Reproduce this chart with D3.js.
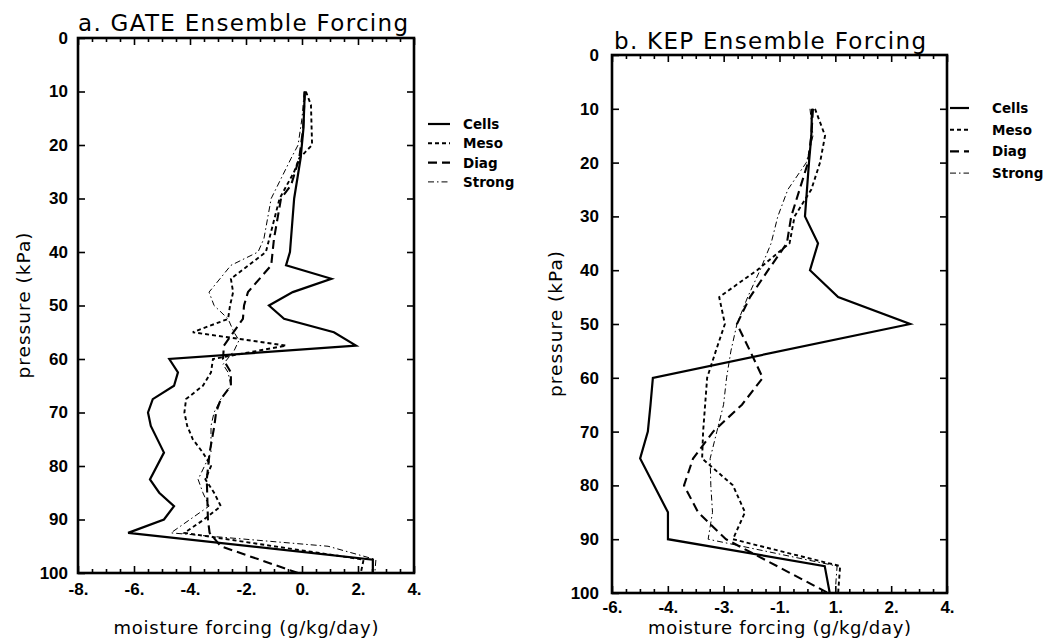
<!DOCTYPE html>
<html>
<head>
<meta charset="utf-8">
<script src="https://cdn.jsdelivr.net/npm/d3@7/dist/d3.min.js"></script>
<style>
  html, body { margin: 0; padding: 0; background: #fff; }
  svg { display: block; }
</style>
</head>
<body>
<svg id="chart" width="1048" height="638"></svg>
<script>
// Vertical profiles of moisture forcing, [pressure kPa, g/kg/day]
const gateCells = [[10,0.1],[17,0.05],[22.5,-0.05],[30,-0.28],[40,-0.43],[42.5,-0.57],[45,1.05],[47.5,-0.33],[50,-1.18],[52.5,-0.64],[55,1.14],[57.5,1.93],[60,-4.74],[62.5,-4.43],[65,-4.57],[67.5,-5.33],[70,-5.5],[72.5,-5.4],[77.5,-4.93],[82.5,-5.43],[85,-5.1],[87.5,-4.57],[90,-4.93],[92.5,-6.21],[97.5,2.53],[100,2.53]];
const gateMeso = [[10,0.14],[12.5,0.32],[20,0.36],[22.5,-0.1],[25,-0.28],[30,-0.8],[40,-1.29],[45,-2.54],[47.5,-2.46],[50,-2.57],[52.5,-2.64],[55,-3.9],[57.5,-0.57],[60,-3.18],[62.5,-3.25],[65,-3.54],[67.5,-4.14],[70,-4.2],[72.5,-4.1],[75,-3.9],[77.5,-3.54],[80,-3.25],[82.5,-3.45],[85,-3.14],[87.5,-2.9],[90,-3.5],[92.5,-4.2],[97.5,2.2],[100,2.1]];
const gateDiag = [[10,0.1],[17,0.04],[22.5,-0.1],[27.5,-0.39],[30,-0.75],[37.5,-1.0],[42.5,-1.1],[47.5,-1.93],[50,-2.07],[52.5,-2.11],[57.5,-2.79],[60,-2.82],[62.5,-2.54],[65,-2.54],[67.5,-2.9],[70,-3.07],[72.5,-3.13],[77.5,-3.3],[82.5,-3.4],[90,-3.36],[92.5,-3.3],[95,-2.9],[100,-0.14]];
const gateStrong = [[10,0.08],[15,0.0],[20,-0.14],[22.5,-0.39],[30,-1.1],[37.5,-1.36],[40,-1.57],[42.5,-2.54],[47.5,-3.32],[50,-3.14],[52.5,-2.64],[55,-2.43],[56.5,-2.25],[58.5,-2.43],[61,-2.82],[62.5,-2.64],[65,-2.54],[67.5,-2.9],[70,-3.14],[72.5,-3.25],[77.5,-3.25],[82.5,-3.71],[85,-3.54],[87.5,-3.32],[92.5,-4.68],[95,0.93],[97.5,2.64],[100,2.6]];

const kepCells = [[10,-0.03],[15,-0.05],[20,-0.12],[25,-0.18],[30,-0.24],[35,0.15],[40,-0.09],[45,0.75],[50,2.9],[60,-4.78],[65,-4.85],[70,-4.93],[75,-5.16],[85,-4.33],[90,-4.33],[95,0.35],[100,0.5]];
const kepMeso = [[10,0.06],[15,0.36],[20,0.21],[25,-0.05],[30,-0.55],[35,-0.7],[40,-1.67],[45,-2.8],[50,-2.63],[55,-2.9],[60,-3.16],[65,-3.22],[70,-3.28],[75,-3.31],[80,-2.39],[85,-2.03],[90,-2.39],[95,0.81],[100,0.75]];
const kepDiag = [[10,0.0],[15,-0.05],[20,-0.15],[25,-0.4],[30,-0.65],[35,-0.78],[40,-1.34],[45,-1.88],[50,-2.27],[55,-1.88],[60,-1.5],[65,-2.12],[70,-2.98],[75,-3.58],[80,-3.85],[85,-3.43],[90,-2.6],[100,0.45]];
const kepStrong = [[10,-0.09],[15,0.0],[20,-0.2],[25,-0.75],[30,-1.05],[35,-1.25],[40,-1.58],[45,-1.95],[50,-2.27],[55,-2.45],[60,-2.58],[65,-2.67],[70,-2.87],[75,-3.07],[80,-3.05],[85,-3.0],[90,-3.13],[95,0.72],[100,0.66]];

const seriesNames = ["Cells", "Meso", "Diag", "Strong"];
const pressureTicks = [0, 10, 20, 30, 40, 50, 60, 70, 80, 90, 100];
const gateXLabels = ["-8.", "-6.", "-4.", "-2.", "0.", "2.", "4."];
const kepXLabels = ["-6.", "-4.", "-3.", "-1.", "1.", "2.", "4."];
const gateXDomain = [-8, 4];
const kepXDomain = [-6, 4];

// Line styles for the four ensemble members
const styles = {
  Cells:  { width: 2.2, dash: null },
  Meso:   { width: 1.9, dash: "4,3" },
  Diag:   { width: 2.1, dash: "9,5" },
  Strong: { width: 1.0, dash: "6,3,1.5,3" }
};

const svg = d3.select("#chart");

function drawPanel(cfg) {
  const g = svg.append("g");
  const x = d3.scaleLinear().domain(cfg.xDomain).range([cfg.left, cfg.right]);
  const y = d3.scaleLinear().domain([0, 100]).range([cfg.top, cfg.bottom]);

  const nMajor = cfg.xLabels.length - 1;
  const step = (cfg.xDomain[1] - cfg.xDomain[0]) / nMajor;
  const majorX = d3.range(nMajor + 1).map(i => cfg.xDomain[0] + i * step);
  const minorX = d3.range(nMajor * 4 + 1).map(i => cfg.xDomain[0] + i * step / 4)
    .filter((v, i) => i % 4 !== 0);

  // bottom axis: labelled majors and minor ticks pointing inward
  g.append("g").attr("transform", `translate(0,${cfg.bottom})`)
    .call(d3.axisBottom(x).tickValues(majorX).tickSizeInner(-7).tickSizeOuter(0).tickPadding(cfg.xPad)
      .tickFormat((d, i) => cfg.xLabels[i]));
  g.append("g").attr("transform", `translate(0,${cfg.bottom})`)
    .call(d3.axisBottom(x).tickValues(minorX).tickSizeInner(-4).tickSizeOuter(0).tickFormat(""));
  // top axis
  g.append("g").attr("transform", `translate(0,${cfg.top})`)
    .call(d3.axisTop(x).tickValues(majorX).tickSizeInner(-7).tickSizeOuter(0).tickFormat(""));
  g.append("g").attr("transform", `translate(0,${cfg.top})`)
    .call(d3.axisTop(x).tickValues(minorX).tickSizeInner(-4).tickSizeOuter(0).tickFormat(""));
  // left and right pressure axes
  g.append("g").attr("transform", `translate(${cfg.left},0)`)
    .call(d3.axisLeft(y).tickValues(pressureTicks).tickSizeInner(-7).tickSizeOuter(0).tickPadding(cfg.yPad)
      .tickFormat(d3.format("d")));
  g.append("g").attr("transform", `translate(${cfg.right},0)`)
    .call(d3.axisRight(y).tickValues(pressureTicks.slice(1, -1)).tickSizeInner(-7).tickSizeOuter(0).tickFormat(""));

  g.selectAll(".domain").remove();
  g.selectAll(".tick line").attr("stroke", "#000").attr("stroke-width", 1.6);
  g.selectAll(".tick text")
    .style("font-family", "'Liberation Sans', Arial, sans-serif")
    .style("font-weight", "bold")
    .style("font-size", "17px")
    .attr("fill", "#000");

  // frame
  g.append("rect")
    .attr("x", cfg.left).attr("y", cfg.top)
    .attr("width", cfg.right - cfg.left).attr("height", cfg.bottom - cfg.top)
    .attr("fill", "none").attr("stroke", "#000").attr("stroke-width", 2.6);

  const line = d3.line().x(d => x(d[1])).y(d => y(d[0]));
  cfg.series.forEach((s, i) => {
    const st = styles[seriesNames[i]];
    g.append("path").datum(s)
      .attr("d", line)
      .attr("fill", "none").attr("stroke", "#000")
      .attr("stroke-width", st.width)
      .attr("stroke-linejoin", "miter")
      .attr("stroke-dasharray", st.dash);
  });

  // title
  g.append("text")
    .attr("x", cfg.titleX).attr("y", cfg.titleY)
    .attr("font-family", "DejaVu Sans, sans-serif").attr("font-size", 23)
    .attr("textLength", cfg.titleLen).attr("lengthAdjust", "spacing")
    .text(cfg.title);

  // axis titles
  g.append("text")
    .attr("x", (cfg.left + cfg.right) / 2 - cfg.xTitleLen / 2).attr("y", cfg.xTitleY)
    .attr("font-family", "DejaVu Sans, sans-serif").attr("font-size", 18)
    .attr("textLength", cfg.xTitleLen).attr("lengthAdjust", "spacing")
    .text("moisture forcing (g/kg/day)");
  g.append("text")
    .attr("transform", `translate(${cfg.yTitleX},${(cfg.top + cfg.bottom) / 2 + 73}) rotate(-90)`)
    .attr("font-family", "DejaVu Sans, sans-serif").attr("font-size", 18.5)
    .attr("textLength", 146).attr("lengthAdjust", "spacing")
    .text("pressure (kPa)");

  // legend
  const lg = g.append("g");
  seriesNames.forEach((name, i) => {
    const st = styles[name];
    const yy = cfg.legendY + i * cfg.legendGap;
    lg.append("line")
      .attr("x1", cfg.legendX).attr("x2", cfg.legendX + cfg.legendLen)
      .attr("y1", yy).attr("y2", yy)
      .attr("stroke", "#000").attr("stroke-width", st.width)
      .attr("stroke-dasharray", st.dash);
    lg.append("text")
      .attr("x", cfg.legendTextX).attr("y", yy + 5)
      .attr("font-family", "DejaVu Sans, sans-serif").attr("font-weight", "bold").attr("font-size", 13.5)
      .text(name);
  });
}

drawPanel({
  title: "a. GATE Ensemble Forcing", titleX: 78, titleY: 31, titleLen: 330,
  left: 78, right: 414, top: 38, bottom: 573,
  xDomain: gateXDomain, xLabels: gateXLabels,
  xPad: 10, yPad: 10, xTitleY: 634, xTitleLen: 265, yTitleX: 30,
  series: [gateCells, gateMeso, gateDiag, gateStrong],
  legendX: 428, legendLen: 22, legendTextX: 463, legendY: 124, legendGap: 19.3
});

drawPanel({
  title: "b. KEP Ensemble Forcing", titleX: 614, titleY: 49, titleLen: 312,
  left: 612, right: 947, top: 55, bottom: 593,
  xDomain: kepXDomain, xLabels: kepXLabels,
  xPad: 8, yPad: 13, xTitleY: 634, xTitleLen: 263, yTitleX: 562,
  series: [kepCells, kepMeso, kepDiag, kepStrong],
  legendX: 950, legendLen: 19, legendTextX: 992, legendY: 108, legendGap: 21.7
});
</script>
</body>
</html>
